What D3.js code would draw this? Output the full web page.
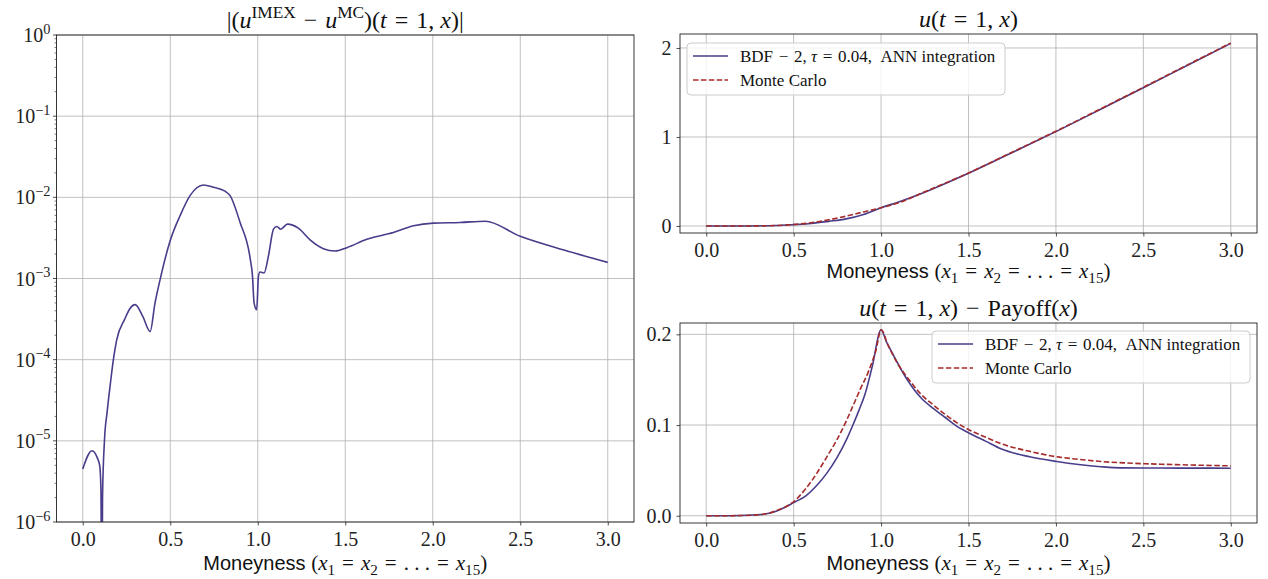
<!DOCTYPE html>
<html>
<head>
<meta charset="utf-8">
<script src="https://cdn.jsdelivr.net/npm/d3@7"></script>
<style>
  body { margin: 0; background: #fff; }
  svg { display: block; }
</style>
</head>
<body>
<svg width="1268" height="579"></svg>
<script>
// error |u_IMEX - u_MC| at t=1 (left panel, log scale)
let errX = [0, 0.053, 0.082, 0.097, 0.104, 0.109, 0.113, 0.124, 0.139, 0.158, 0.175, 0.194, 0.24, 0.27, 0.299,
  0.343, 0.385, 0.413, 0.442, 0.499, 0.556, 0.613, 0.69, 0.747, 0.813, 0.842, 0.899, 0.956, 0.97, 0.979, 0.994,
  1.004, 1.013, 1.036, 1.061, 1.09, 1.109, 1.131, 1.17, 1.232, 1.299, 1.375, 1.442, 1.509, 1.623, 1.775, 1.89,
  2.004, 2.156, 2.3, 2.5, 2.75, 3.0];
let errVal = [4.5e-6, 7.55e-6, 6.25e-6, 4.94e-6, 2.5e-6, 3e-8, 2e-6, 1.0e-5, 2.24e-5, 5.1e-5, 1.0e-4, 1.75e-4, 3.16e-4, 4.27e-4, 4.76e-4,
  3.41e-4, 2.22e-4, 5.0e-4, 9.7e-4, 2.9e-3, 5.93e-3, 1.05e-2, 1.42e-2, 1.33e-2, 1.19e-2, 1.05e-2, 4.9e-3, 1.8e-3, 1.07e-3, 5.0e-4, 4.13e-4,
  1.07e-3, 1.2e-3, 1.17e-3, 1.89e-3, 4.05e-3, 4.37e-3, 4.05e-3, 4.68e-3, 4.17e-3, 2.99e-3, 2.33e-3, 2.18e-3, 2.4e-3, 3.04e-3, 3.68e-3, 4.46e-3,
  4.81e-3, 4.9e-3, 5.08e-3, 3.31e-3, 2.24e-3, 1.58e-3];

// u(t=1,x) (top right)
let uX = [0, 0.25, 0.4, 0.5, 0.6, 0.7, 0.8, 0.9, 1.0, 1.1, 1.25, 1.5, 1.75, 2.0, 2.25, 2.5, 2.75, 3.0];
let uBdf = [0, 0.0005, 0.005, 0.015, 0.028, 0.052, 0.08, 0.13, 0.205, 0.27, 0.38, 0.592, 0.825, 1.06, 1.305, 1.553, 1.803, 2.052];
let uMc = [0, 0.0005, 0.0055, 0.016, 0.036, 0.069, 0.11, 0.158, 0.205, 0.26, 0.384, 0.595, 0.829, 1.065, 1.31, 1.558, 1.807, 2.055];

// u(t=1,x) - payoff(x) (bottom right)
let dBdfX = [0, 0.1, 0.2, 0.313, 0.4, 0.503, 0.57, 0.633, 0.69, 0.748, 0.8, 0.839, 0.875, 0.908, 0.95, 1.0, 1.03, 1.068,
  1.14, 1.228, 1.3, 1.365, 1.43, 1.502, 1.6, 1.685, 1.85, 2.005, 2.13, 2.257, 2.37, 2.6, 2.8, 3.0];
let dBdf = [0, 0, 0.0002, 0.0013, 0.0050, 0.0148, 0.022, 0.0336, 0.047, 0.064, 0.083, 0.1, 0.117, 0.134, 0.165, 0.205, 0.192, 0.178,
  0.153, 0.130, 0.118, 0.1086, 0.099, 0.0913, 0.082, 0.0738, 0.065, 0.0598, 0.0565, 0.0541, 0.0528, 0.0526, 0.0525, 0.0524];
let dMcX = [0, 0.1, 0.2, 0.313, 0.4, 0.503, 0.57, 0.633, 0.69, 0.748, 0.8, 0.839, 0.88, 0.93, 0.97, 1.0, 1.04, 1.091,
  1.16, 1.228, 1.3, 1.365, 1.43, 1.502, 1.6, 1.685, 1.85, 2.005, 2.13, 2.257, 2.4, 2.6, 2.8, 3.0];
let dMc = [0, 0, 0.0002, 0.0013, 0.0055, 0.016, 0.030, 0.047, 0.065, 0.084, 0.104, 0.121, 0.139, 0.160, 0.182, 0.205, 0.188, 0.169,
  0.150, 0.134, 0.122, 0.112, 0.103, 0.0948, 0.0865, 0.0795, 0.071, 0.065, 0.0622, 0.0598, 0.0582, 0.0568, 0.0558, 0.055];

let xTicks = [0, 0.5, 1, 1.5, 2, 2.5, 3];
let logTicks = [1e-6, 1e-5, 1e-4, 1e-3, 1e-2, 1e-1, 1];
let uTicks = [0, 1, 2];
let dTicks = [0, 0.1, 0.2];
let legendLabels = ["BDF", "Monte Carlo"];

let blue = "#483d8b", red = "#a52a2a";
let serif = "'Liberation Serif', 'DejaVu Serif', serif";
let sans = "'Liberation Sans', Arial, sans-serif";
let eq = "\u200a = \u200a";   // roomier relation spacing, like TeX math
let minus = "\u200a \u2212 \u200a";

let svg = d3.select("svg");

// write text with italic / super / subscript parts
function rich(t, parts, size) {
  let off = 0;
  parts.forEach(function(p) {
    let ts = t.append("tspan").text(p.t);
    let target = p.s == "sup" ? -size * 0.42 : p.s == "sub" ? size * 0.22 : 0;
    ts.attr("dy", target - off);
    off = target;
    if (p.s) ts.attr("font-size", size * 0.72);
    if (p.i) ts.attr("font-style", "italic");
    if (p.f) ts.attr("font-family", p.f);
    if (p.fs) ts.attr("font-size", p.fs);
  });
}

function grid(g, x, y, yt, box) {
  g.append("g").selectAll("line").data(xTicks).enter().append("line")
    .attr("x1", d => x(d)).attr("x2", d => x(d))
    .attr("y1", box.y0).attr("y2", box.y1)
    .attr("stroke", "#b0b0b0").attr("stroke-width", 0.8);
  g.append("g").selectAll("line").data(yt).enter().append("line")
    .attr("x1", box.x0).attr("x2", box.x1)
    .attr("y1", d => y(d)).attr("y2", d => y(d))
    .attr("stroke", "#b0b0b0").attr("stroke-width", 0.8);
}

function xAxis(g, x, box) {
  let ax = g.append("g").attr("transform", "translate(0," + box.y1 + ")")
    .call(d3.axisBottom(x).tickValues(xTicks).tickFormat(d3.format(".1f")).tickSize(3.5).tickPadding(6));
  ax.select(".domain").remove();
  ax.selectAll("line").attr("stroke", "#222").attr("stroke-width", 0.8);
  ax.selectAll("text").attr("font-family", serif).attr("font-size", 20).attr("fill", "#222");
  let lab = g.append("text").attr("x", (box.x0 + box.x1) / 2).attr("y", box.y1 + box.lab)
    .attr("text-anchor", "middle").attr("font-size", 21).attr("fill", "#111").attr("font-family", serif);
  rich(lab, [{t: "Moneyness ", f: sans, fs: 20}, {t: "("}, {t: "x", i: 1}, {t: "1", s: "sub"}, {t: eq},
    {t: "x", i: 1}, {t: "2", s: "sub"}, {t: eq + ". . ." + eq}, {t: "x", i: 1}, {t: "15", s: "sub"}, {t: ")"}], 21);
}

function frame(g, box) {
  g.append("rect").attr("x", box.x0).attr("y", box.y0)
    .attr("width", box.x1 - box.x0).attr("height", box.y1 - box.y0)
    .attr("fill", "none").attr("stroke", "#222").attr("stroke-width", 0.9);
}

function title(g, box, parts) {
  let t = g.append("text").attr("x", (box.x0 + box.x1) / 2).attr("y", box.y0 - 7)
    .attr("text-anchor", "middle").attr("font-family", serif).attr("font-size", 24).attr("fill", "#111");
  rich(t, parts, 24);
}

function legend(g, lx, ly) {
  g.append("rect").attr("x", lx).attr("y", ly).attr("width", 318).attr("height", 52)
    .attr("rx", 4).attr("fill", "white").attr("fill-opacity", 0.8)
    .attr("stroke", "#cccccc").attr("stroke-width", 1);
  let rows = [{c: blue, dash: null}, {c: red, dash: "5.5,2.4"}];
  rows.forEach(function(r, i) {
    let yy = ly + 13 + i * 24;
    g.append("line").attr("x1", lx + 6).attr("x2", lx + 41).attr("y1", yy).attr("y2", yy)
      .attr("stroke", r.c).attr("stroke-width", 1.6).attr("stroke-dasharray", r.dash);
    let t = g.append("text").attr("x", lx + 53).attr("y", yy + 5.5)
      .attr("font-family", serif).attr("font-size", 17).attr("fill", "#111");
    if (i == 0) rich(t, [{t: legendLabels[0] + minus + "2, "}, {t: "\u03c4", i: 1}, {t: eq + "0.04,\u00a0\u00a0ANN integration"}], 17);
    else t.text(legendLabels[1]);
  });
}

// ---- left panel: log error
let bL = {x0: 56.5, x1: 634, y0: 35, y1: 522, lab: 48};
let xL = d3.scaleLinear().domain([-0.15, 3.15]).range([bL.x0, bL.x1]);
let yL = d3.scaleLog().domain([1e-6, 1]).range([bL.y1, bL.y0]);
let gL = svg.append("g");
grid(gL, xL, yL, logTicks, bL);

svg.append("clipPath").attr("id", "clipL").append("rect")
  .attr("x", bL.x0).attr("y", bL.y0).attr("width", bL.x1 - bL.x0).attr("height", bL.y1 - bL.y0);
let errLine = d3.line().x((d, i) => xL(errX[i])).y(d => yL(d)).curve(d3.curveMonotoneX);
gL.append("path").datum(errVal).attr("d", errLine).attr("clip-path", "url(#clipL)")
  .attr("fill", "none").attr("stroke", blue).attr("stroke-width", 1.6);

// log ticks and minor ticks
let minor = [];
for (let k = -6; k < 0; k++) for (let m = 2; m < 10; m++) minor.push(m * Math.pow(10, k));
gL.append("g").selectAll("line").data(minor).enter().append("line")
  .attr("x1", bL.x0 - 2).attr("x2", bL.x0).attr("y1", d => yL(d)).attr("y2", d => yL(d))
  .attr("stroke", "#222").attr("stroke-width", 0.6);
gL.append("g").selectAll("line").data(logTicks).enter().append("line")
  .attr("x1", bL.x0 - 3.5).attr("x2", bL.x0).attr("y1", d => yL(d)).attr("y2", d => yL(d))
  .attr("stroke", "#222").attr("stroke-width", 0.8);
gL.append("g").selectAll("text").data(logTicks).enter().append("text")
  .attr("x", bL.x0 - 6).attr("y", d => yL(d) + 7).attr("text-anchor", "end")
  .attr("font-family", serif).attr("font-size", 20).attr("fill", "#222")
  .each(function(d) {
    let e = Math.round(Math.log10(d));
    rich(d3.select(this), [{t: "10"}, {t: e < 0 ? "\u2212" + (-e) : String(e), s: "sup"}], 20);
  });
frame(gL, bL);
xAxis(gL, xL, bL);
title(gL, bL, [{t: "|("}, {t: "u", i: 1}, {t: "IMEX", s: "sup"}, {t: minus}, {t: "u", i: 1}, {t: "MC", s: "sup"},
  {t: ")("}, {t: "t", i: 1}, {t: eq + "1, "}, {t: "x", i: 1}, {t: ")|"}]);

// ---- right panels
function linePanel(box, yDomain, yt, fmt, series, legendPos, titleParts) {
  let g = svg.append("g");
  let x = d3.scaleLinear().domain([-0.15, 3.15]).range([box.x0, box.x1]);
  let y = d3.scaleLinear().domain(yDomain).range([box.y1, box.y0]);
  grid(g, x, y, yt, box);
  series.forEach(function(s) {
    let ln = d3.line().x((d, i) => x(s.x[i])).y(d => y(d)).curve(d3.curveMonotoneX);
    g.append("path").datum(s.v).attr("d", ln).attr("fill", "none")
      .attr("stroke", s.c).attr("stroke-width", 1.6).attr("stroke-dasharray", s.dash);
  });
  let ay = g.append("g").attr("transform", "translate(" + box.x0 + ",0)")
    .call(d3.axisLeft(y).tickValues(yt).tickFormat(d3.format(fmt)).tickSize(3.5).tickPadding(5));
  ay.select(".domain").remove();
  ay.selectAll("line").attr("stroke", "#222").attr("stroke-width", 0.8);
  ay.selectAll("text").attr("font-family", serif).attr("font-size", 20).attr("fill", "#222");
  frame(g, box);
  xAxis(g, x, box);
  legend(g, legendPos[0], legendPos[1]);
  title(g, box, titleParts);
}

let bT = {x0: 680, x1: 1257, y0: 34, y1: 233, lab: 45};
linePanel(bT, [-0.079, 2.157], uTicks, "d",
  [{x: uX, v: uBdf, c: blue, dash: null}, {x: uX, v: uMc, c: red, dash: "5.5,2.4"}],
  [687, 43],
  [{t: "u", i: 1}, {t: "("}, {t: "t", i: 1}, {t: eq + "1, "}, {t: "x", i: 1}, {t: ")"}]);

let bB = {x0: 680, x1: 1257, y0: 323, y1: 523, lab: 47};
linePanel(bB, [-0.008, 0.2125], dTicks, ".1f",
  [{x: dBdfX, v: dBdf, c: blue, dash: null}, {x: dMcX, v: dMc, c: red, dash: "5.5,2.4"}],
  [932, 331],
  [{t: "u", i: 1}, {t: "("}, {t: "t", i: 1}, {t: eq + "1, "}, {t: "x", i: 1}, {t: ")" + minus + "Payoff("}, {t: "x", i: 1}, {t: ")"}]);
</script>
</body>
</html>
